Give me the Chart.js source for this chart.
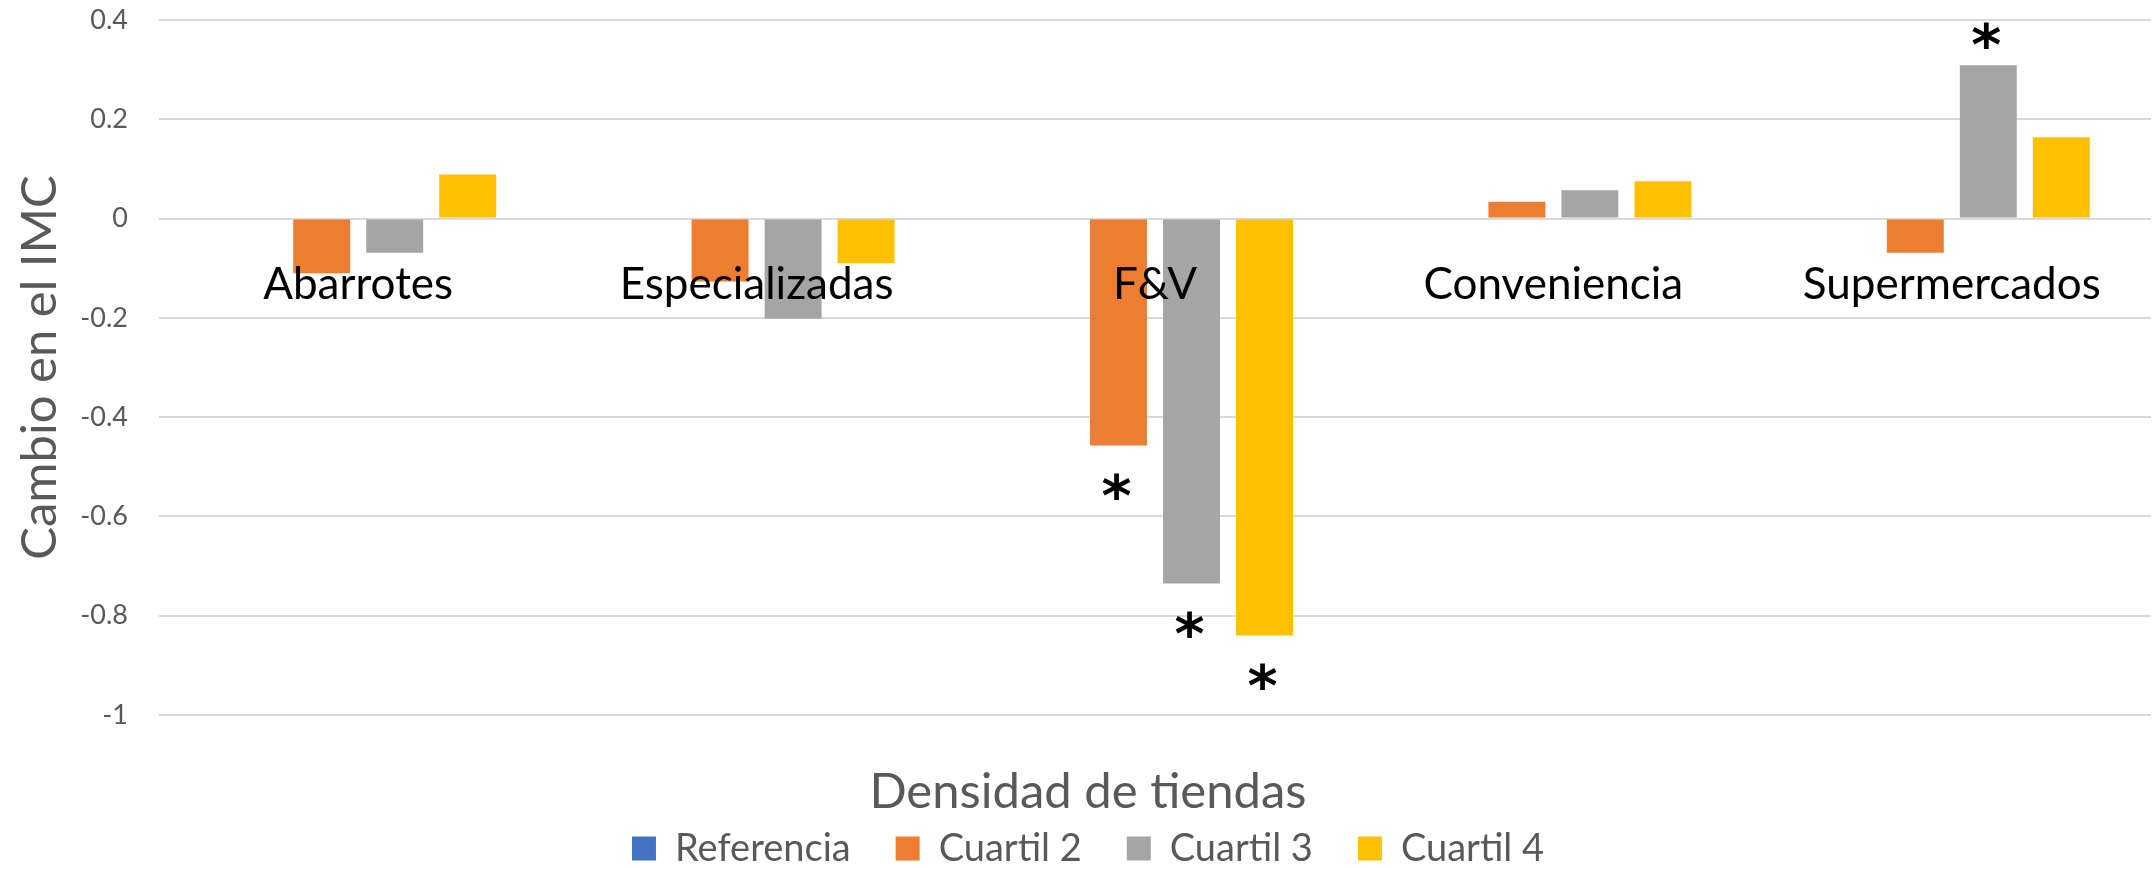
<!DOCTYPE html>
<html>
<head>
<meta charset="utf-8">
<script src="https://cdn.jsdelivr.net/npm/chart.js@4.4.0/dist/chart.umd.min.js"></script>
<style>
  html, body { margin: 0; padding: 0; background: #fff; overflow: hidden; }
  #wrap { width: 2153px; height: 869px; position: relative; }
</style>
</head>
<body>
<div id="wrap"><canvas id="myChart"></canvas></div>
<script>
// Datos
var categorias = ['Abarrotes', 'Especializadas', 'F&V', 'Conveniencia', 'Supermercados'];
var referencia = [0, 0, 0, 0, 0];
var cuartil2 = [-0.110, -0.127, -0.457, 0.034, -0.069];
var cuartil3 = [-0.069, -0.202, -0.735, 0.057, 0.309];
var cuartil4 = [0.089, -0.090, -0.840, 0.075, 0.164];

// significativo (*)
var sig2 = [0, 0, 1, 0, 0];
var sig3 = [0, 0, 1, 0, 1];
var sig4 = [0, 0, 1, 0, 0];

var yTicks = [0.4, 0.2, 0, -0.2, -0.4, -0.6, -0.8, -1];

var gris = '#595959';
var fuente = 'Lato';

// asteriscos sobre / bajo las barras
var asteriscos = {
    id: 'asteriscos',
    afterDatasetsDraw: function(chart) {
        var ctx = chart.ctx;
        ctx.save();
        ctx.font = 'bold 100px "DejaVu Sans"';
        var m = ctx.measureText('*');
        var size = 100 * 27 / (m.actualBoundingBoxAscent + m.actualBoundingBoxDescent);
        ctx.font = 'bold ' + size + 'px "DejaVu Sans"';
        m = ctx.measureText('*');
        ctx.fillStyle = '#000';
        ctx.textAlign = 'left';
        ctx.textBaseline = 'alphabetic';
        chart.data.datasets.forEach(function(ds, di) {
            if (!ds.sig) return;
            var meta = chart.getDatasetMeta(di);
            meta.data.forEach(function(bar, i) {
                if (!ds.sig[i]) return;
                var cy = ds.data[i] < 0 ? bar.y + 56 : bar.y - 15;
                var x0 = bar.x - 2 - (m.actualBoundingBoxRight - m.actualBoundingBoxLeft) / 2;
                var y0 = cy + (m.actualBoundingBoxAscent - m.actualBoundingBoxDescent) / 2;
                ctx.fillText('*', x0, y0);
            });
        });
        ctx.restore();
    }
};

var ctx = document.getElementById('myChart').getContext('2d');
var chart = new Chart(ctx, {
    type: 'bar',
    data: {
        labels: categorias,
        datasets: [
            { label: 'Referencia', data: referencia, backgroundColor: '#4472C4' },
            { label: 'Cuartil 2', data: cuartil2, backgroundColor: '#ED7D31', sig: sig2 },
            { label: 'Cuartil 3', data: cuartil3, backgroundColor: '#A5A5A5', sig: sig3 },
            { label: 'Cuartil 4', data: cuartil4, backgroundColor: '#FFC000', sig: sig4 }
        ]
    },
    options: {
        responsive: true,
        maintainAspectRatio: false,
        devicePixelRatio: 1,
        animation: false,
        datasets: {
            bar: { categoryPercentage: 0.733, barPercentage: 0.78, borderWidth: 0 }
        },
        layout: { padding: { top: 20, left: 25, right: 2, bottom: 0 } },
        scales: {
            x: {
                position: { y: 0 },
                grid: { display: false },
                border: { display: false },
                ticks: {
                    color: '#000',
                    font: { family: fuente, size: 44 },
                    padding: 32,
                    z: 1,
                    maxRotation: 0,
                    autoSkip: false
                }
            },
            y: {
                min: -1,
                max: 0.4,
                afterBuildTicks: function(s) {
                    s.ticks = yTicks.map(function(v) { return { value: v }; });
                },
                afterFit: function(s) { s.width = 134; },
                grid: { color: '#d9d9d9', lineWidth: 2, drawTicks: true, tickLength: 28, tickColor: 'rgba(0,0,0,0)' },
                border: { display: false },
                ticks: {
                    color: gris,
                    font: { family: fuente, size: 27 },
                    padding: 3,
                    callback: function(v) { return String(v); }
                },
                title: {
                    display: true,
                    text: 'Cambio en el IMC',
                    color: gris,
                    font: { family: fuente, size: 49 },
                    padding: { top: -14.4, bottom: 0 }
                }
            }
        },
        plugins: {
            tooltip: { enabled: false },
            title: {
                display: true,
                text: 'Densidad de tiendas',
                position: 'bottom',
                color: gris,
                font: { family: fuente, size: 49, weight: 'normal' },
                padding: { top: 48, bottom: -37.3 }
            },
            legend: {
                position: 'bottom',
                weight: 3000,
                maxHeight: 84.5,
                labels: {
                    color: gris,
                    font: { family: fuente, size: 38 },
                    boxWidth: 24,
                    boxHeight: 24,
                    padding: 45
                }
            }
        }
    },
    plugins: [asteriscos]
});
</script>
</body>
</html>
